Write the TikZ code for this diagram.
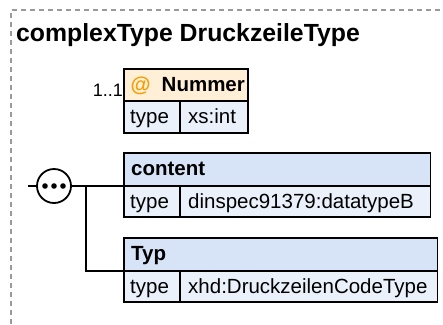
\documentclass[tikz,border=0pt]{standalone}
\usepackage{fontspec}
\setmainfont{Liberation Sans}
\definecolor{atthdr}{HTML}{FFEFD6}
\definecolor{elhdr}{HTML}{D7E4F7}
\definecolor{rowfill}{HTML}{EAF1FB}
\definecolor{atorange}{HTML}{F59E00}
\definecolor{framegray}{HTML}{9A9A9A}
\begin{document}
\begin{tikzpicture}[x=1pt,y=-1pt,
  cell/.style={draw=black, line width=1.8pt, anchor=north west, inner sep=0pt, outer sep=0pt, minimum height=#1},
  cell/.default=32pt,
  lbl/.style={anchor=base west, inner sep=0pt, font=\fontsize{20.5}{24}\selectfont},
  blbl/.style={lbl, font=\fontsize{20.5}{24}\selectfont\bfseries},
  conn/.style={draw=black, line width=1.8pt},
  frame/.style={draw=framegray, line width=1.2pt, dash pattern=on 5pt off 4pt}
]
\useasboundingbox (0,0) rectangle (443,324);
\draw[frame] (11,324) -- (11,10) -- (443,10);
\node[anchor=base west, inner sep=0pt, font=\fontsize{24.8}{28}\selectfont\bfseries] (title) at (16,41.7) {complexType DruckzeileType};

% Nummer attribute
\node[cell=32pt, fill=atthdr, minimum width=124pt] (numH) at (124,69) {};
\node[cell=32pt, fill=rowfill, minimum width=56pt] (numK) at (124,101) {};
\node[cell=32pt, fill=rowfill, minimum width=68pt] (numV) at (180,101) {};
\node[blbl, text=atorange] (numAt) at (130.5,91.5) {@};
\node[blbl] (numT) at (161.5,91.5) {Nummer};
\node[lbl] (numKT) at (130,123.5) {type};
\node[lbl] (numVT) at (188,123.5) {xs:int};
\node[anchor=base east, inner sep=0pt, font=\fontsize{18}{20}\selectfont] (numOcc) at (123,96.5) {1..1};

% content element
\node[cell=33pt, fill=elhdr, minimum width=306.5pt] (conH) at (124,153) {};
\node[cell=31pt, fill=rowfill, minimum width=56pt] (conK) at (124,186) {};
\node[cell=31pt, fill=rowfill, minimum width=250.5pt] (conV) at (180,186) {};
\node[blbl] (conT) at (131,175.5) {content};
\node[lbl] (conKT) at (130,208) {type};
\node[lbl] (conVT) at (188,208) {dinspec91379:datatypeB};

% Typ element
\node[cell=33pt, fill=elhdr, minimum width=313.5pt] (typH) at (124,238) {};
\node[cell=31pt, fill=rowfill, minimum width=56pt] (typK) at (124,271) {};
\node[cell=31pt, fill=rowfill, minimum width=257.5pt] (typV) at (180,271) {};
\node[blbl] (typT) at (131,260) {Typ};
\node[lbl] (typKT) at (130,293) {type};
\node[lbl] (typVT) at (188,293) {xhd:DruckzeilenCodeType};

% sequence compositor
\node[circle, draw=black, line width=1.8pt, fill=white, minimum size=34pt, inner sep=0pt, outer sep=0pt] (seq) at (54,186) {};
\foreach \dx/\n in {-9/a,0/b,9/c} \fill (54+\dx,186) circle (2.8pt);
\coordinate (start) at (28,186);
\coordinate (branch) at (86,186);
\draw[conn] (start) -- (seq.west);
\draw[conn] (seq.east) -- (conH.south west);
\draw[conn] (branch) |- (typH.south west);
\end{tikzpicture}
\end{document}
